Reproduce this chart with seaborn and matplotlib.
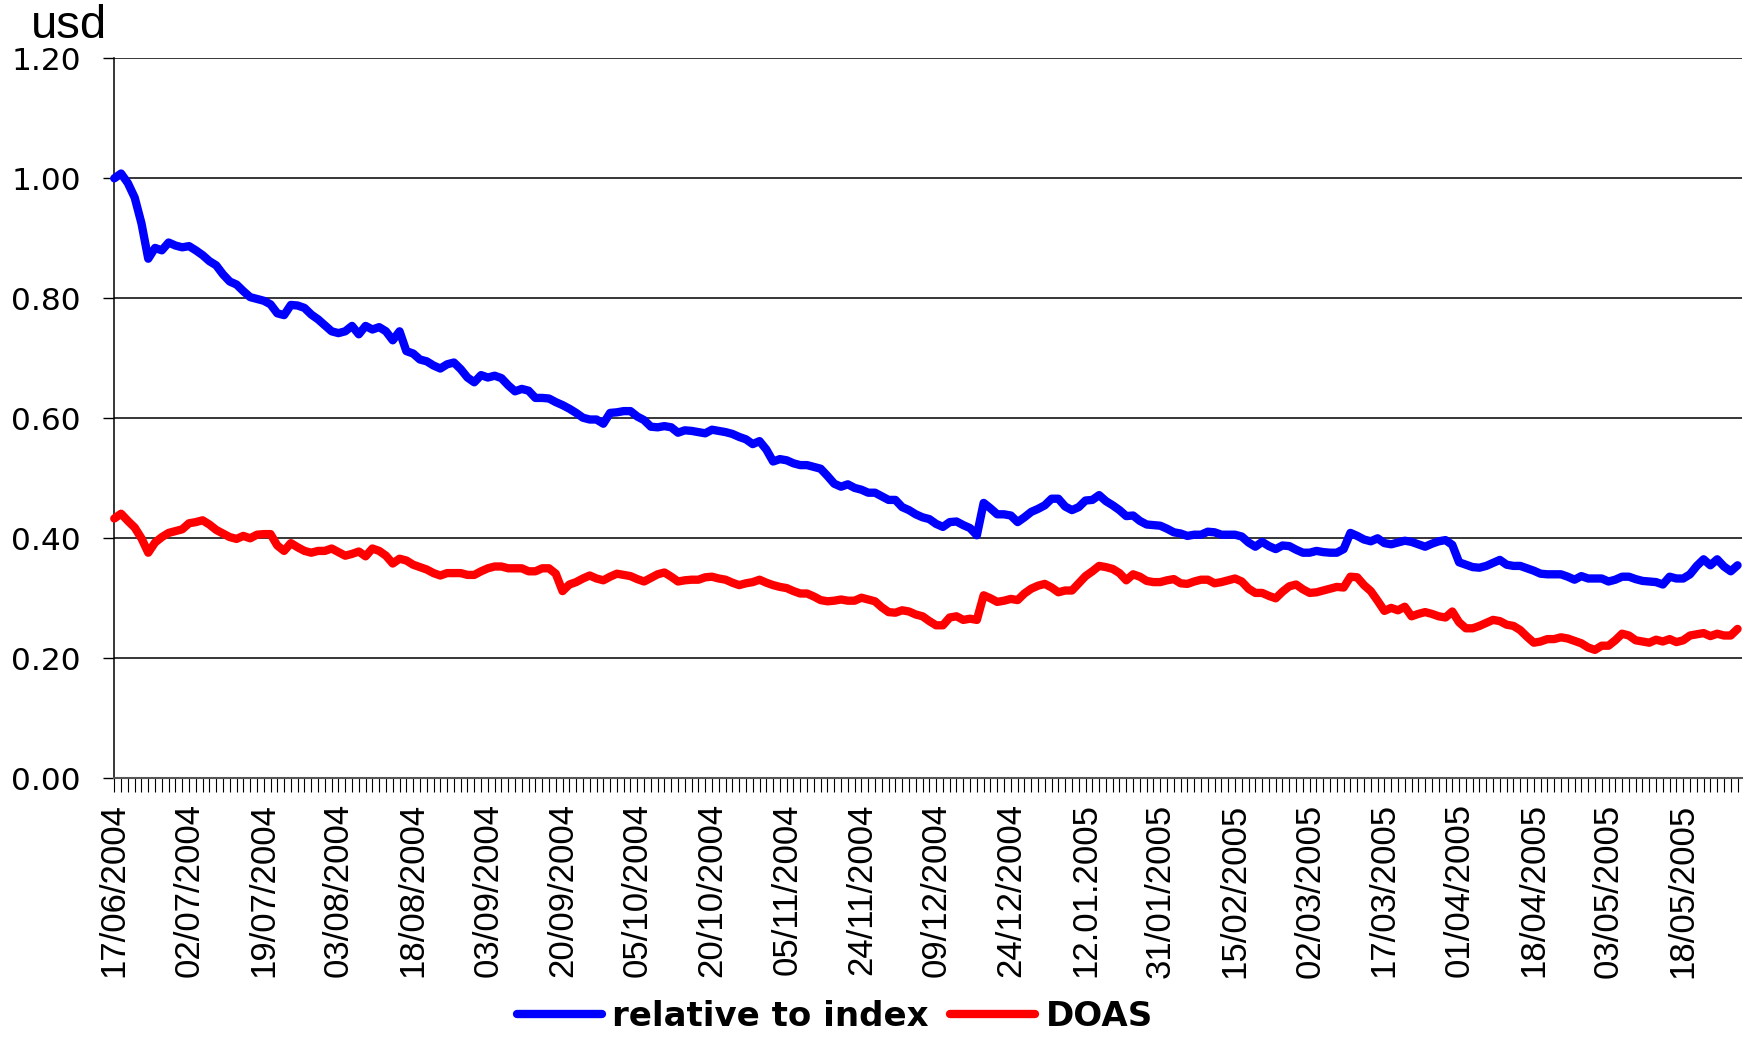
import pandas as pd
import matplotlib
matplotlib.use("Agg")
import matplotlib.pyplot as plt
import seaborn as sns
from matplotlib.lines import Line2D

# 값 (그림에서 읽은 값, 거래일 기준)
relative_to_index = [
    1.000, 1.008, 0.992, 0.968, 0.925, 0.866, 0.884, 0.880, 0.893, 0.888,
    0.885, 0.887, 0.880, 0.872, 0.862, 0.855, 0.840, 0.828, 0.823, 0.812,
    0.802, 0.799, 0.796, 0.790, 0.775, 0.772, 0.789, 0.788, 0.784, 0.773,
    0.765, 0.755, 0.745, 0.742, 0.745, 0.754, 0.740, 0.754, 0.748,
    0.752, 0.745, 0.730, 0.745, 0.712, 0.708, 0.698, 0.695, 0.688, 0.683,
    0.690, 0.693, 0.682, 0.668, 0.660, 0.672, 0.668, 0.671, 0.667, 0.655,
    0.645, 0.649, 0.646, 0.634, 0.634, 0.633, 0.627, 0.622, 0.616, 0.609,
    0.601, 0.598, 0.598, 0.591, 0.609, 0.610, 0.612, 0.612, 0.603, 0.597,
    0.586,
    0.585, 0.587, 0.585, 0.576, 0.580, 0.579, 0.577, 0.575, 0.581, 0.579,
    0.577, 0.574, 0.569, 0.565, 0.557, 0.562, 0.548, 0.528, 0.532, 0.530,
    0.525, 0.522, 0.522, 0.519, 0.516, 0.504, 0.491, 0.486, 0.490, 0.484,
    0.481, 0.476, 0.476, 0.470, 0.464, 0.464, 0.452, 0.447, 0.440, 0.435,
    0.432, 0.424, 0.419, 0.427, 0.428, 0.422, 0.417, 0.405, 0.459, 0.450,
    0.440, 0.440, 0.438, 0.427, 0.435, 0.444, 0.449, 0.455, 0.466, 0.466,
    0.453, 0.447, 0.452, 0.463, 0.464, 0.472, 0.462, 0.455, 0.447, 0.437,
    0.438, 0.429, 0.423, 0.422, 0.421, 0.416, 0.410, 0.408, 0.404, 0.406,
    0.406, 0.411, 0.410, 0.406, 0.406, 0.406, 0.403, 0.393, 0.386, 0.394,
    0.387, 0.382, 0.388, 0.387, 0.381, 0.376, 0.376, 0.379, 0.377, 0.376,
    0.376, 0.382, 0.409, 0.404, 0.398, 0.395, 0.400, 0.392, 0.390, 0.393,
    0.396, 0.394, 0.390, 0.386, 0.391, 0.395, 0.397, 0.389, 0.360, 0.356,
    0.352, 0.351, 0.354, 0.359, 0.364, 0.356, 0.354, 0.354, 0.350, 0.346,
    0.341, 0.340, 0.340, 0.340, 0.336, 0.331, 0.337, 0.333, 0.333, 0.333,
    0.328, 0.331, 0.336, 0.336, 0.332, 0.329, 0.328, 0.327, 0.323, 0.336,
    0.333, 0.333, 0.340, 0.354, 0.365, 0.355, 0.365, 0.353, 0.345, 0.355,
]

doas = [
    0.433, 0.441, 0.429, 0.418, 0.400, 0.376, 0.393, 0.402, 0.409, 0.412,
    0.415, 0.425, 0.427, 0.430, 0.423, 0.414, 0.408, 0.402, 0.399, 0.404,
    0.400, 0.406, 0.407, 0.407, 0.388, 0.379, 0.392, 0.385, 0.379, 0.376,
    0.379, 0.379, 0.383, 0.377, 0.371, 0.374, 0.378, 0.370, 0.383,
    0.379, 0.371, 0.358, 0.366, 0.363, 0.356, 0.352, 0.348, 0.342, 0.338,
    0.342, 0.342, 0.342, 0.339, 0.339, 0.345, 0.350, 0.353, 0.353, 0.350,
    0.350, 0.350, 0.345, 0.345, 0.350, 0.350, 0.341, 0.312, 0.323, 0.327,
    0.333, 0.338, 0.333, 0.330, 0.336, 0.341, 0.339, 0.337, 0.332, 0.328,
    0.334,
    0.340, 0.343, 0.336, 0.328, 0.330, 0.331, 0.331, 0.335, 0.336, 0.333,
    0.331, 0.326, 0.322, 0.325, 0.327, 0.331, 0.326, 0.322, 0.319, 0.317,
    0.312, 0.308, 0.308, 0.303, 0.297, 0.295, 0.296, 0.298, 0.296, 0.296,
    0.301, 0.298, 0.295, 0.285, 0.277, 0.276, 0.280, 0.278, 0.273, 0.270,
    0.262, 0.255, 0.255, 0.268, 0.270, 0.264, 0.266, 0.264, 0.305, 0.300,
    0.294, 0.296, 0.299, 0.297, 0.308, 0.316, 0.321, 0.324, 0.318, 0.310,
    0.313, 0.313, 0.325, 0.337, 0.345, 0.354, 0.352, 0.349, 0.342, 0.330,
    0.340, 0.336, 0.329, 0.327, 0.327, 0.330, 0.332, 0.325, 0.324, 0.328,
    0.331, 0.331, 0.325, 0.327, 0.330, 0.333, 0.328, 0.316, 0.309, 0.309,
    0.304, 0.300, 0.311, 0.320, 0.323, 0.315, 0.309, 0.310, 0.313, 0.316,
    0.319, 0.318, 0.336, 0.335, 0.322, 0.312, 0.296, 0.279, 0.284, 0.280,
    0.286, 0.270, 0.274, 0.277, 0.274, 0.270, 0.268, 0.278, 0.260, 0.250,
    0.250, 0.254, 0.259, 0.264, 0.262, 0.256, 0.254, 0.247, 0.236, 0.226,
    0.228, 0.232, 0.232, 0.235, 0.233, 0.229, 0.225, 0.218, 0.214, 0.221,
    0.221, 0.230, 0.241, 0.238, 0.230, 0.228, 0.226, 0.231, 0.228, 0.232,
    0.227, 0.230, 0.238, 0.240, 0.242, 0.237, 0.241, 0.238, 0.238, 0.249,
]

# 11 거래일마다 날짜 라벨
date_labels = [
    "17/06/2004", "02/07/2004", "19/07/2004", "03/08/2004", "18/08/2004",
    "03/09/2004", "20/09/2004", "05/10/2004", "20/10/2004", "05/11/2004",
    "24/11/2004", "09/12/2004", "24/12/2004", "12.01.2005", "31/01/2005",
    "15/02/2005", "02/03/2005", "17/03/2005", "01/04/2005", "18/04/2005",
    "03/05/2005", "18/05/2005",
]
label_step = 11

series_names = ["relative to index", "DOAS"]
colors = {"relative to index": "#0000ff", "DOAS": "#ff0000"}

sns.set_style("white")
plt.rcParams['font.family'] = ['Liberation Sans', 'DejaVu Sans']
plt.rcParams['text.color'] = 'black'
plt.rcParams['xtick.color'] = 'black'
plt.rcParams['ytick.color'] = 'black'

n = len(relative_to_index)
df = pd.DataFrame({
    "day": list(range(n)) * 2,
    "value": relative_to_index + doas,
    "series": [series_names[0]] * n + [series_names[1]] * n,
})

fig = plt.figure(figsize=(17.61, 10.38), dpi=100)
ax = fig.add_axes([0.0649, 0.2502, 0.9241, 0.6936])

lw = 6.0
sns.lineplot(data=df, x="day", y="value", hue="series", hue_order=series_names,
             palette=colors, linewidth=lw, legend=False, ax=ax)
for ln in ax.get_lines():
    ln.set_solid_joinstyle("round")
    ln.set_solid_capstyle("round")
    ln.set_clip_on(False)
    ln.set_zorder(3)

ax.set_xlim(0, n - 0.4)
ax.set_ylim(0, 1.2)
ax.set_yticks([0.0, 0.2, 0.4, 0.6, 0.8, 1.0, 1.2])
ax.set_yticklabels([f"{v:.2f}" for v in ax.get_yticks()],
                   fontsize=22.5, family=['DejaVu Sans'])
ax.yaxis.grid(True, color="black", linewidth=1.1)
ax.set_axisbelow(True)

major_pos = list(range(0, n, label_step))
ax.set_xticks(major_pos)
ax.set_xticklabels(date_labels, rotation=90, fontsize=25, va="top", ha="center")
ax.set_xticks(list(range(n)), minor=True)
ax.tick_params(axis="x", which="both", bottom=True, direction="out", length=10,
               width=0.8, color="black", pad=8)
ax.tick_params(axis="y", left=True, direction="out", length=8, width=1,
               color="black", pad=16)

for side in ["top", "right"]:
    ax.spines[side].set_visible(False)
ax.spines["left"].set_color("black")
ax.spines["left"].set_linewidth(1.1)
ax.spines["bottom"].set_color("#555555")
ax.spines["bottom"].set_linewidth(1.5)
ax.set_xlabel("")
ax.set_ylabel("")

fig.text(31 / 1761, 1 - 38 / 1038, "usd", fontsize=34, va="baseline", ha="left",
         color="black")

handles = [Line2D([0], [0], color=colors[s], linewidth=lw,
                  solid_capstyle="round") for s in series_names]
leg = fig.legend(handles, series_names, loc="center", bbox_to_anchor=(0.474, 0.021),
                 ncol=2, frameon=False, handlelength=2.5, handletextpad=0.3,
                 columnspacing=0.65, borderaxespad=0,
                 prop={"family": "DejaVu Sans", "weight": "bold", "size": 24.5})
for t in leg.get_texts():
    t.set_color("black")

fig.savefig("out.png", dpi=100)
